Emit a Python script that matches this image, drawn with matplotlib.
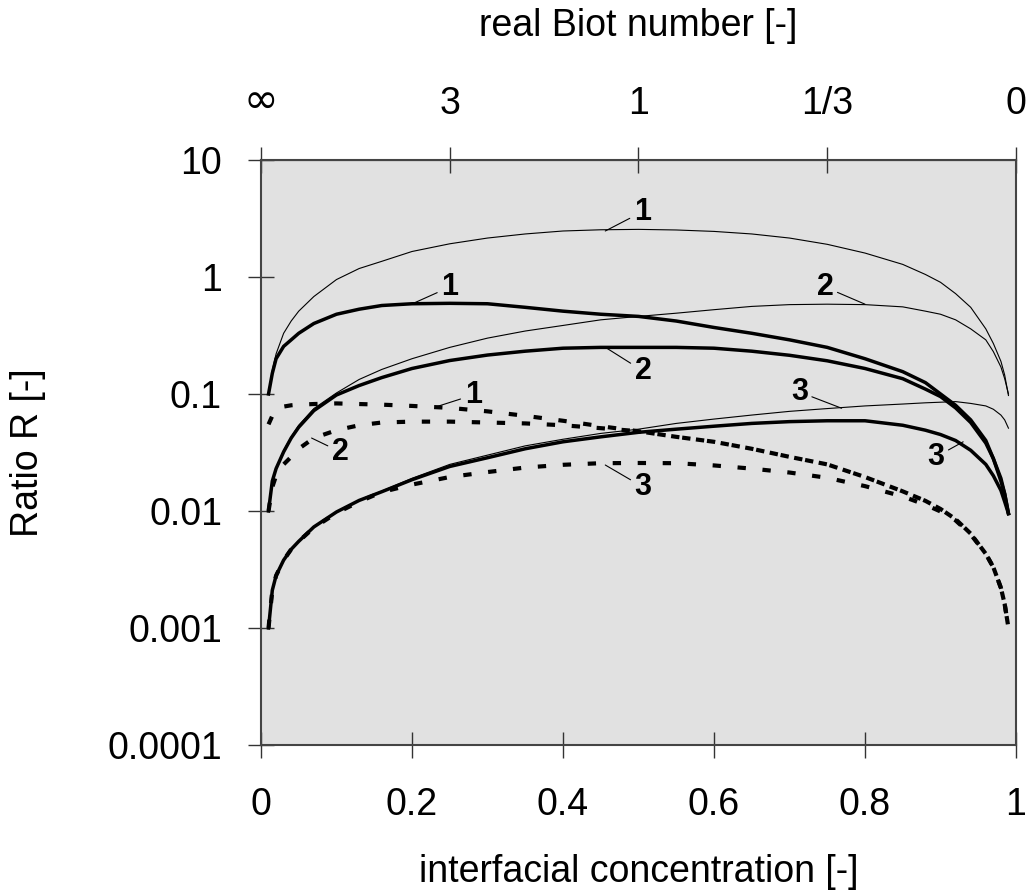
import matplotlib
matplotlib.use('Agg')
import matplotlib.pyplot as plt
from matplotlib.ticker import NullLocator

plt.rcParams['font.family'] = ['Liberation Sans', 'DejaVu Sans']

# interfacial concentration grid
conc = [0.01, 0.015, 0.02, 0.03, 0.04, 0.05, 0.07, 0.1, 0.13, 0.16, 0.2, 0.25,
        0.3, 0.35, 0.4, 0.45, 0.5, 0.55, 0.6, 0.65, 0.7, 0.75, 0.8, 0.85,
        0.88, 0.9, 0.92, 0.94, 0.96, 0.97, 0.98, 0.985, 0.99]

# thin solid curves
thin1 = [0.10, 0.16, 0.22, 0.33, 0.42, 0.51, 0.68, 0.95, 1.18, 1.36, 1.65, 1.92,
         2.15, 2.33, 2.47, 2.53, 2.55, 2.52, 2.45, 2.33, 2.15, 1.9, 1.6, 1.28,
         1.05, 0.9, 0.72, 0.55, 0.36, 0.27, 0.19, 0.145, 0.097]
thin2 = [0.01, 0.018, 0.023, 0.033, 0.043, 0.054, 0.075, 0.102, 0.133, 0.162, 0.2, 0.25,
         0.3, 0.345, 0.385, 0.43, 0.46, 0.49, 0.525, 0.56, 0.58, 0.585, 0.58, 0.555,
         0.51, 0.48, 0.43, 0.36, 0.29, 0.23, 0.17, 0.135, 0.1]
thin3 = [0.001, 0.0021, 0.0028, 0.0038, 0.0047, 0.0055, 0.0073, 0.0098, 0.0124, 0.0148, 0.019, 0.025,
         0.030, 0.036, 0.041, 0.046, 0.05, 0.056, 0.061, 0.066, 0.071, 0.075, 0.079, 0.082,
         0.084, 0.085, 0.086, 0.083, 0.079, 0.074, 0.066, 0.06, 0.051]

# thick solid curves
thick1 = [0.1, 0.15, 0.2, 0.255, 0.29, 0.33, 0.40, 0.48, 0.53, 0.57, 0.59, 0.595,
          0.59, 0.55, 0.51, 0.48, 0.46, 0.42, 0.37, 0.33, 0.29, 0.25, 0.2, 0.155,
          0.125, 0.1, 0.08, 0.06, 0.04, 0.028, 0.019, 0.014, 0.0095]
thick2 = [0.01, 0.018, 0.023, 0.032, 0.042, 0.052, 0.072, 0.098, 0.118, 0.138, 0.165, 0.193,
          0.215, 0.232, 0.246, 0.25, 0.25, 0.25, 0.246, 0.232, 0.214, 0.192, 0.165, 0.135,
          0.11, 0.095, 0.076, 0.057, 0.038, 0.028, 0.018, 0.014, 0.0095]
thick3 = [0.001, 0.0021, 0.0028, 0.0038, 0.0047, 0.0055, 0.0073, 0.0098, 0.0123, 0.0146, 0.0185, 0.024,
          0.0285, 0.034, 0.039, 0.043, 0.047, 0.05, 0.053, 0.056, 0.058, 0.059, 0.059, 0.054,
          0.049, 0.045, 0.04, 0.033, 0.025, 0.02, 0.015, 0.012, 0.0095]

# dashed curves
dash1 = [0.055, 0.065, 0.072, 0.078, 0.08, 0.081, 0.082, 0.083, 0.082, 0.081, 0.079, 0.076,
         0.071, 0.065, 0.059, 0.053, 0.048, 0.043, 0.039, 0.034, 0.029, 0.025, 0.0195, 0.0147,
         0.0122, 0.0104, 0.0085, 0.0064, 0.0043, 0.0033, 0.0022, 0.0016, 0.001]
dash2 = [0.01, 0.016, 0.02, 0.025, 0.029, 0.034, 0.042, 0.049, 0.054, 0.057, 0.058, 0.058,
         0.057, 0.056, 0.054, 0.051, 0.048, 0.043, 0.039, 0.034, 0.029, 0.025, 0.0195, 0.0147,
         0.0122, 0.0104, 0.0085, 0.0064, 0.0043, 0.0033, 0.0022, 0.0016, 0.001]
dash3 = [0.001, 0.0021, 0.0028, 0.0038, 0.0047, 0.0055, 0.0072, 0.0096, 0.012, 0.0145, 0.0168, 0.0195,
         0.0215, 0.0235, 0.0248, 0.0256, 0.0257, 0.0256, 0.0245, 0.023, 0.0213, 0.0192, 0.0163, 0.0133,
         0.0113, 0.0099, 0.0083, 0.0063, 0.0043, 0.0033, 0.0022, 0.0016, 0.001]

x_ticks = [0, 0.2, 0.4, 0.6, 0.8, 1]
x_ticklabels = ['0', '0.2', '0.4', '0.6', '0.8', '1']
y_ticks = [1e-4, 1e-3, 1e-2, 1e-1, 1, 10]
y_ticklabels = ['0.0001', '0.001', '0.01', '0.1', '1', '10']
biot_pos = [0, 0.25, 0.5, 0.75, 1]
biot_labels = ['\u221e', '3', '1', '1/3', '0']

# curve labels: text, point on curve, text position
curve_labels = [
    ('1', (0.456, 2.47), (0.505, 3.6)),
    ('1', (0.202, 0.596), (0.250, 0.82)),
    ('2', (0.800, 0.585), (0.747, 0.82)),
    ('2', (0.458, 0.246), (0.506, 0.157)),
    ('1', (0.233, 0.078), (0.281, 0.098)),
    ('2', (0.067, 0.042), (0.105, 0.032)),
    ('3', (0.769, 0.0755), (0.713, 0.104)),
    ('3', (0.930, 0.039), (0.894, 0.029)),
    ('3', (0.456, 0.0247), (0.506, 0.016)),
]

fig = plt.figure(figsize=(10.34, 8.94), dpi=100)
ax = fig.add_axes([0.2524, 0.1667, 0.7302, 0.6544])
ax.set_facecolor('#e1e1e1')

for y in [thin1, thin2, thin3]:
    ax.plot(conc, y, color='black', lw=0.8)
for y in [thick1, thick2, thick3]:
    ax.plot(conc, y, color='black', lw=2.5)
for y in [dash1, dash2, dash3]:
    ax.plot(conc, y, color='black', lw=3, linestyle=(0, (2, 4)))

for txt, pt, tpos in curve_labels:
    ax.annotate(txt, xy=pt, xytext=tpos, ha='center', va='center',
                fontsize=22, fontweight='bold',
                arrowprops=dict(arrowstyle='-', lw=0.8, color='black',
                                shrinkA=1, shrinkB=0))

ax.set_yscale('log')
ax.set_xlim(0, 1)
ax.set_ylim(1e-4, 10)
ax.set_xticks(x_ticks)
ax.set_xticklabels(x_ticklabels)
ax.set_yticks(y_ticks)
ax.set_yticklabels(y_ticklabels)
ax.yaxis.set_minor_locator(NullLocator())

for s in ax.spines.values():
    s.set_color('#444444')
    s.set_linewidth(1.5)

ax.tick_params(axis='x', direction='inout', length=18.7, width=1, color='#333333',
               labelsize=27, pad=21)
ax.tick_params(axis='y', direction='inout', length=18.7, width=1, color='#333333',
               labelsize=27, pad=18.7)
ax.set_xlabel('interfacial concentration [-]', fontsize=27, labelpad=22)
ax.set_ylabel('Ratio R [-]', fontsize=27, labelpad=44)

sec = ax.secondary_xaxis('top')
sec.set_xticks(biot_pos)
sec.set_xticklabels(biot_labels)
sec.tick_params(direction='inout', length=18.7, width=1, color='#333333',
                labelsize=27, pad=18)
inf_label = sec.get_xticklabels()[0]
inf_label.set_fontfamily('DejaVu Sans')
inf_label.set_fontsize(30)
sec.set_xlabel('real Biot number [-]', fontsize=27, labelpad=32)

fig.savefig('out.png', dpi=100)
